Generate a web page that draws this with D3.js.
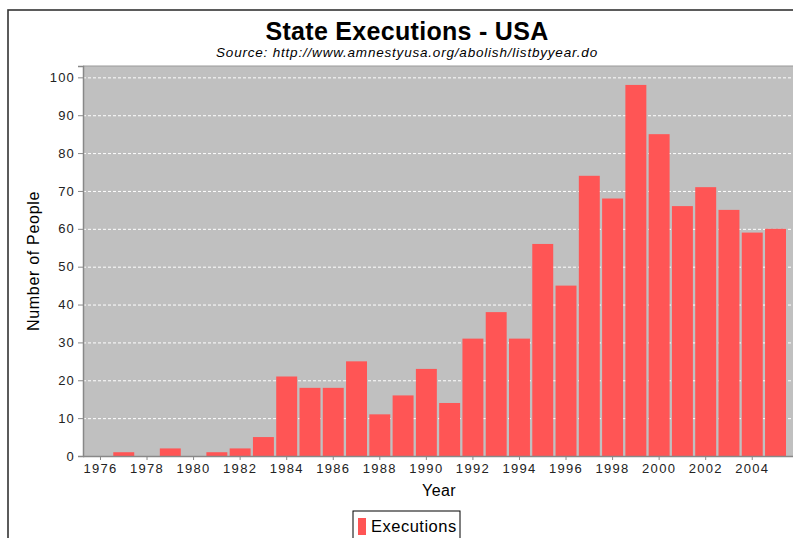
<!DOCTYPE html>
<html>
<head>
<meta charset="utf-8">
<script src="https://cdn.jsdelivr.net/npm/d3@7"></script>
<style>
  body { margin: 0; background: #fff; }
  text { font-family: "Liberation Sans", Arial, sans-serif; }
</style>
</head>
<body>
<svg id="chart" width="793" height="538"></svg>
<script>
// Data
const years = d3.range(1976, 2006);
const executions = [0, 1, 0, 2, 0, 1, 2, 5, 21, 18, 18, 25, 11, 16, 23, 14,
  31, 38, 31, 56, 45, 74, 68, 98, 85, 66, 71, 65, 59, 60];
const yTicks = [0, 10, 20, 30, 40, 50, 60, 70, 80, 90, 100];
const xTickYears = d3.range(1976, 2005, 2);

const svg = d3.select("#chart");
const plot = { left: 83, right: 795, top: 66, bottom: 456 };
const centerX = 407;

// outer frame (chart is cropped at the right edge)
svg.append("rect")
  .attr("x", 8).attr("y", 10)
  .attr("width", 820).attr("height", 560)
  .attr("fill", "#fff")
  .attr("stroke", "#333")
  .attr("stroke-width", 1.6);

// titles
svg.append("text")
  .attr("x", centerX).attr("y", 40)
  .attr("text-anchor", "middle")
  .attr("font-size", 25).attr("font-weight", "bold")
  .attr("letter-spacing", 0.3)
  .text("State Executions - USA");

svg.append("text")
  .attr("x", centerX).attr("y", 57)
  .attr("text-anchor", "middle")
  .attr("font-size", 13.5).attr("font-style", "italic")
  .attr("letter-spacing", 0.8)
  .text("Source: http://www.amnestyusa.org/abolish/listbyyear.do");

// scales
const x = d3.scaleBand()
  .domain(years)
  .range([90, 786])
  .paddingInner(0.1);

const y = d3.scaleLinear()
  .domain([0, 103])
  .range([plot.bottom, plot.top]);

// plot background
svg.append("rect")
  .attr("x", plot.left).attr("y", plot.top)
  .attr("width", plot.right - plot.left)
  .attr("height", plot.bottom - plot.top)
  .attr("fill", "#c0c0c0");

svg.append("line")
  .attr("x1", plot.left).attr("x2", plot.right)
  .attr("y1", plot.top).attr("y2", plot.top)
  .attr("stroke", "#999").attr("stroke-width", 1.2);

// gridlines
svg.append("g")
  .selectAll("line")
  .data(yTicks.filter((d) => d > 0))
  .enter()
  .append("line")
  .attr("x1", plot.left).attr("x2", plot.right)
  .attr("y1", (d) => y(d) + 0.5).attr("y2", (d) => y(d) + 0.5)
  .attr("stroke", "#fff")
  .attr("stroke-dasharray", "3,2");

// bars
svg.append("g")
  .selectAll("rect")
  .data(years.map((yr, i) => ({ year: yr, value: executions[i] })))
  .enter()
  .append("rect")
  .attr("x", (d) => x(d.year))
  .attr("width", x.bandwidth())
  .attr("y", (d) => y(d.value))
  .attr("height", (d) => plot.bottom - y(d.value))
  .attr("fill", "#ff5555");

// y axis
const yAxis = d3.axisLeft(y)
  .tickValues(yTicks)
  .tickSize(5)
  .tickPadding(3);

const gy = svg.append("g")
  .attr("transform", `translate(${plot.left},0)`)
  .call(yAxis);
gy.select(".domain").attr("stroke", "#888").attr("stroke-width", 1.5);
gy.selectAll(".tick line").attr("stroke", "#888");
gy.selectAll(".tick text")
  .attr("font-size", 13)
  .attr("letter-spacing", 1.2)
  .attr("fill", "#222");

// x axis
const xAxis = d3.axisBottom(x)
  .tickValues(xTickYears)
  .tickSize(4)
  .tickSizeOuter(0)
  .tickPadding(4);

const gx = svg.append("g")
  .attr("transform", `translate(0,${plot.bottom})`)
  .call(xAxis);
gx.select(".domain")
  .attr("d", `M${plot.left},0.5H${plot.right}`)
  .attr("stroke", "#888").attr("stroke-width", 1.5);
gx.selectAll(".tick line").attr("stroke", "#888");
gx.selectAll(".tick text")
  .attr("font-size", 13)
  .attr("letter-spacing", 1.3)
  .attr("fill", "#222");

// axis titles
svg.append("text")
  .attr("x", (plot.left + plot.right) / 2).attr("y", 496)
  .attr("text-anchor", "middle")
  .attr("font-size", 16)
  .attr("letter-spacing", 0.4)
  .text("Year");

svg.append("text")
  .attr("transform", `translate(39,${(plot.top + plot.bottom) / 2}) rotate(-90)`)
  .attr("text-anchor", "middle")
  .attr("font-size", 16)
  .attr("letter-spacing", 0.7)
  .text("Number of People");

// legend
const legend = svg.append("g").attr("transform", "translate(353,511)");
legend.append("rect")
  .attr("width", 107).attr("height", 40)
  .attr("fill", "#fff")
  .attr("stroke", "#000");
legend.append("rect")
  .attr("x", 5).attr("y", 7)
  .attr("width", 8).attr("height", 17)
  .attr("fill", "#ff5555");
legend.append("text")
  .attr("x", 18).attr("y", 21)
  .attr("font-size", 16.5)
  .attr("letter-spacing", 0.5)
  .text("Executions");
</script>
</body>
</html>
